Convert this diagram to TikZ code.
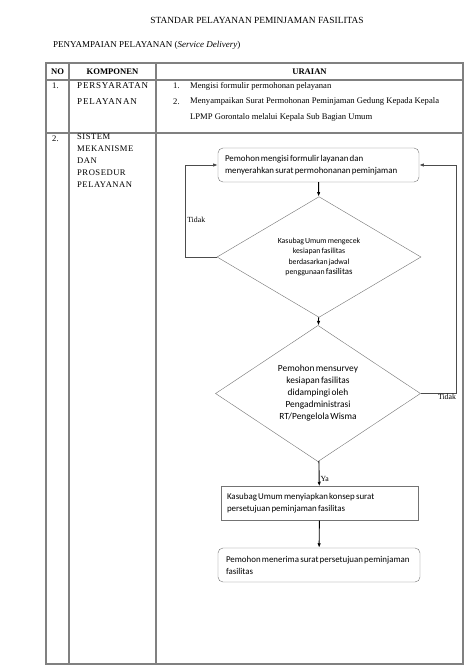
\documentclass[tikz,border=0pt]{standalone}
\usepackage{fontspec}
\setmainfont{Liberation Serif}
\newfontfamily\calibri[WordSpace=0.6]{Carlito}
\usepackage{tikz}
\usetikzlibrary{shapes.geometric,arrows.meta,positioning}

\begin{document}
\begin{tikzpicture}[x=1pt,y=-1pt,
  font=\fontsize{8.6}{10}\selectfont,
  grid/.style={draw=black!50,line width=1.1pt},
  box/.style={draw=black!55,rounded corners=5pt,align=left,minimum height=34pt,inner sep=0pt,
    font=\calibri\fontsize{8.9}{12}\selectfont,execute at begin node={\spaceskip=0pt\xspaceskip=0pt\relax}},
  sqbox/.style={box,rounded corners=0pt},
  dec/.style={draw=black!55,diamond,align=center,inner sep=0pt,fill=white},
  arr/.style={-{Latex[length=1.6mm,width=1.2mm]},line width=0.9pt},
  lab/.style={font=\fontsize{7.8}{9}\selectfont,inner sep=1pt},
  cell/.style={anchor=west,inner sep=0pt},
  spaced/.style={font=\fontsize{9}{12}\addfontfeature{LetterSpace=9}\selectfont}]
\useasboundingbox (0,0) rectangle (474,670);
% ---------- heading ----------
\node[font=\fontsize{9.4}{11}\selectfont] (title) at (257,20) {STANDAR PELAYANAN PEMINJAMAN FASILITAS};
\node[cell,font=\fontsize{9}{11}\selectfont] (sub) at (53,45) {PENYAMPAIAN PELAYANAN (\textit{Service Delivery})};
% ---------- table ----------
\draw[grid] (46,63) rectangle (463,664);
\draw[grid] (46,80) -- (463,80);
\draw[grid] (46,133) -- (463,133);
\draw[grid] (69,63) -- (69,664);
\draw[grid] (156,63) -- (156,664);
\node[font=\bfseries\fontsize{8.6}{10}\selectfont] (hno) at (57.5,71.5) {NO};
\node[font=\bfseries\fontsize{8.6}{10}\selectfont] (hkomp) at (112.5,71.5) {KOMPONEN};
\node[font=\bfseries\fontsize{8.6}{10}\selectfont] (hurai) at (309.5,71.5) {URAIAN};
\node[cell] (no1) at (52,86) {1.};
\node[cell,spaced] (komp1a) at (77,86) {PERSYARATAN};
\node[cell,spaced] (komp1b) at (77,102) {PELAYANAN};
\node[cell] (it1) at (173,86) {1.};
\node[cell] (it1t) at (190,86) {Mengisi formulir permohonan pelayanan};
\node[cell] (it2) at (173,101.5) {2.};
\node[cell] (it2t) at (190,101.5) {Menyampaikan Surat Permohonan Peminjaman Gedung Kepada Kepala};
\node[cell] (it2u) at (190,117) {LPMP Gorontalo melalui Kepala Sub Bagian Umum};
\node[cell] (no2) at (52,139) {2.};
\node[cell,anchor=north west,align=left,font=\fontsize{8.6}{12}\addfontfeature{LetterSpace=6}\selectfont] (komp2) at (77,133.5) {SISTEM\\MEKANISME\\DAN\\PROSEDUR\\PELAYANAN};
% ---------- flowchart ----------
\node[box,minimum width=201pt,text width=187pt] (isi) at (318.5,165) {Pemohon mengisi formulir layanan dan\\menyerahkan surat permohonanan peminjaman};
\node[dec,minimum width=204pt,minimum height=94pt,font=\calibri\fontsize{7.8}{10.5}\selectfont] (cek) at (319,257) {Kasubag Umum mengecek\\kesiapan fasilitas\\berdasarkan jadwal\\penggunaan \fontsize{8.8}{10.5}\selectfont fasilitas};
\node[lab,text=black!60] (ya1) at (330,339) {Ya};
\node[dec,minimum width=205pt,minimum height=121pt,font=\calibri\fontsize{9.4}{12}\selectfont] (survey) at (318,393.5) {Pemohon mensurvey\\kesiapan fasilitas\\didampingi oleh\\Pengadministrasi\\RT/Pengelola Wisma};
\node[sqbox,minimum width=197pt,text width=185pt] (konsep) at (319.5,503.5) {Kasubag Umum menyiapkan konsep surat\\persetujuan peminjaman fasilitas};
\node[box,minimum width=202pt,text width=186pt] (terima) at (319,565) {Pemohon menerima surat persetujuan peminjaman\\fasilitas};
\draw[arr] (isi) -- (cek);
\draw[arr] (cek) -- (survey);
\draw[arr] (survey) -- node[lab,right,pos=0.72]{Ya} (konsep);
\draw[arr] (konsep) -- (terima);
\draw[arr,draw=black!70] (cek.west) -- ++(-31,0) |- node[lab,right,pos=0.2]{Tidak} (isi.west);
\draw[arr,draw=black!70] (survey.east) -- ++(36,0) |- (isi.east);
\node[lab] (tidak2) at (447,397) {Tidak};
\end{tikzpicture}
\end{document}
